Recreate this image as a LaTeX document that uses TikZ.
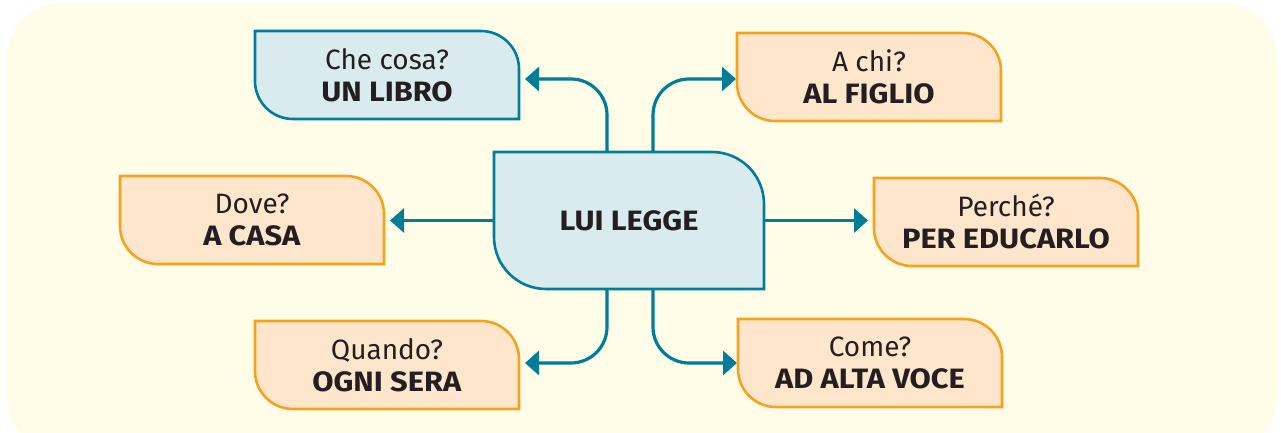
\documentclass[tikz,border=0pt]{standalone}
\usepackage{fontspec}
\setmainfont{Fira Sans}[BoldFeatures={FakeStretch=1.1}]
\usetikzlibrary{arrows.meta}
\pgfdeclarelayer{paperlayer}
\pgfdeclarelayer{bg}
\pgfsetlayers{paperlayer,bg,main}

\definecolor{paper}{RGB}{255,253,232}
\definecolor{teal}{RGB}{0,125,152}
\definecolor{bluefill}{RGB}{218,235,240}
\definecolor{orangeline}{RGB}{247,162,30}
\definecolor{orangefill}{RGB}{253,230,203}
\definecolor{ink}{RGB}{35,31,32}

\tikzset{
  box/.style={minimum width=264pt, minimum height=88pt, inner sep=0pt, outer sep=0pt,
    align=center, text=ink, font=\fontsize{28}{32}\selectfont},
  hub/.style={box, minimum width=270pt, minimum height=137pt},
  blueline/.style={draw=teal, fill=bluefill, line width=2.6pt},
  orangeedge/.style={draw=orangeline, fill=orangefill, line width=2.6pt},
  conn/.style={draw=teal, line width=3.2pt, rounded corners=36pt,
    -{Triangle[length=14pt,width=24pt]}},
}

% outline with rounded top-right and bottom-left corners
\newcommand\leafoutline[3]{%
  \draw[#3] (#1.north west) -- ([xshift=-#2]#1.north east)
    arc[start angle=90,end angle=0,radius=#2] -- (#1.south east)
    -- ([xshift=#2]#1.south west)
    arc[start angle=270,end angle=180,radius=#2] -- cycle;}

\begin{document}
\begin{tikzpicture}[x=1pt,y=1pt]
\useasboundingbox (0,0) rectangle (1281,432);
\begin{pgfonlayer}{paperlayer}
  \fill[paper, rounded corners=54pt] (7,-20) rectangle (1277,429);
\end{pgfonlayer}

\node[hub]  (c)     at (629,211.5) {\textbf{LUI LEGGE}};
\node[box]  (cosa)  at (387,357)   {Che cosa?\\\textbf{UN LIBRO}};
\node[box]  (chi)   at (869,355)   {A chi?\\\textbf{AL FIGLIO}};
\node[box]  (dove)  at (252,212)   {Dove?\\\textbf{A CASA}};
\node[box]  (perche) at (1006,210) {Perché?\\\textbf{PER EDUCARLO}};
\node[box]  (quando) at (387,67)   {Quando?\\\textbf{OGNI SERA}};
\node[box]  (come)  at (870,69)    {Come?\\\textbf{AD ALTA VOCE}};

\begin{pgfonlayer}{bg}
  \draw[conn, shorten >=6pt] (c.west) -- (c.west -| dove.east);
  \draw[conn, shorten >=6pt] (c.east) -- (c.east -| perche.west);
  \draw[conn, shorten >=6pt] ([xshift=-22pt]c.north) |- ([yshift=-4pt]cosa.east);
  \draw[conn, shorten >=1pt] ([xshift=24pt]c.north) |- ([yshift=-2pt]chi.west);
  \draw[conn, shorten >=6pt] ([xshift=-22pt]c.south) |- ([yshift=2pt]quando.east);
  \draw[conn, shorten >=1pt] ([xshift=24pt]c.south) |- (come.west);
  \leafoutline{c}{52pt}{blueline}
  \leafoutline{cosa}{38pt}{blueline}
  \leafoutline{chi}{38pt}{orangeedge}
  \leafoutline{dove}{38pt}{orangeedge}
  \leafoutline{perche}{38pt}{orangeedge}
  \leafoutline{quando}{38pt}{orangeedge}
  \leafoutline{come}{38pt}{orangeedge}
\end{pgfonlayer}
\end{tikzpicture}
\end{document}
